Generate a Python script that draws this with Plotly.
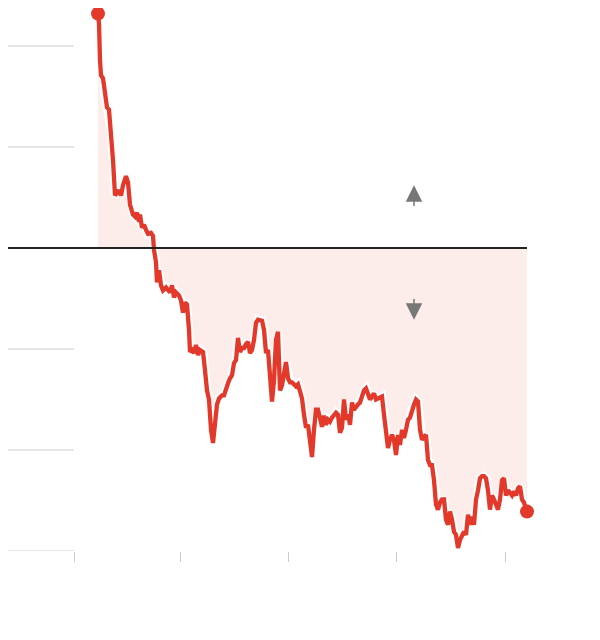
import plotly.graph_objects as go

# trading-day index and change from the base level (points)
days = [24, 25, 26, 27, 29, 31, 33, 35, 37, 39, 41, 43, 45, 47, 49, 52, 54, 56, 59, 61,
        63, 65, 66, 68, 70, 72, 74, 77, 79, 80, 82, 83, 85, 87, 89, 92, 94, 96, 98, 100,
        102, 105, 107, 109, 111, 113, 115, 116, 118, 120, 122, 124, 126, 129, 131, 133, 135, 137, 139, 141,
        143, 145, 148, 150, 152, 154, 156, 158, 160, 162, 164, 166, 168, 170, 172, 174, 176, 178, 180, 182,
        184, 186, 188, 190, 192, 194, 196, 198, 200, 202, 204, 206, 208, 210, 212, 214, 216, 218, 220, 222,
        224, 226, 228, 230, 232, 234, 236, 238, 240, 242, 244, 246, 248, 250, 252, 254, 256, 258, 260, 262,
        264, 266, 268, 270, 272, 274, 276, 278, 280, 282, 284, 286, 288, 290, 292, 294, 296, 298, 300, 302,
        304, 306, 308, 310, 312, 314, 316, 318, 320, 322, 324, 326, 328, 330, 332, 334, 336, 338, 340, 342,
        344, 346, 348, 350, 352, 354, 356, 358, 360, 362, 364, 366, 368, 370, 372, 374, 376, 378, 380, 382,
        384, 386, 388, 390, 392, 394, 396, 398, 400, 402, 404, 406, 408, 410, 412, 414, 416, 418, 420, 422,
        424, 426, 428, 430, 432, 434, 436, 438, 440, 442, 444, 446, 448, 450, 453]
change = [232, 222, 186, 171, 168, 151, 139, 137, 117, 87, 52, 54, 57, 52, 62, 71, 65, 43, 33, 31,
          35, 26, 33, 20, 23, 18, 14, 15, 12, -2, -14, -34, -22, -37, -42, -39, -42, -44, -37, -49,
          -44, -47, -52, -64, -54, -56, -81, -103, -101, -104, -96, -106, -101, -103, -121, -141, -150, -180, -193, -175,
          -155, -149, -146, -146, -139, -134, -129, -126, -114, -111, -89, -103, -99, -99, -95, -93, -104, -101, -91, -74,
          -71, -72, -72, -81, -104, -101, -123, -152, -131, -91, -83, -141, -136, -126, -113, -129, -133, -133, -135, -137,
          -135, -141, -149, -165, -178, -175, -190, -207, -180, -160, -160, -170, -177, -166, -175, -170, -172, -168, -166, -163,
          -165, -183, -178, -150, -170, -165, -175, -153, -160, -157, -155, -153, -148, -141, -139, -146, -150, -147, -144, -150,
          -149, -147, -147, -165, -180, -198, -190, -185, -190, -205, -185, -195, -180, -188, -180, -170, -168, -160, -155, -150,
          -152, -180, -190, -187, -185, -210, -215, -215, -230, -254, -259, -252, -249, -249, -269, -274, -261, -269, -281, -284,
          -297, -289, -284, -281, -284, -264, -274, -266, -274, -249, -240, -228, -226, -226, -228, -240, -259, -245, -249, -254,
          -259, -249, -230, -228, -245, -240, -243, -245, -241, -245, -238, -236, -249, -252, -261]

tick_days = [0, 106, 214, 322, 431]
grid_levels = [200, 100, -100, -200, -300]

RED = "#e2392b"
GRID = "#cccccc"

fig = go.Figure()

# shaded area between the series and zero
fig.add_trace(go.Scatter(x=days, y=change, mode="none", fill="tozeroy",
                         fillcolor="#fcecea", hoverinfo="skip"))
# white halo under the line
fig.add_trace(go.Scatter(x=days, y=change, mode="lines",
                         line=dict(color="white", width=8.5), hoverinfo="skip"))
fig.add_trace(go.Scatter(x=days, y=change, mode="lines",
                         line=dict(color=RED, width=4.3)))
# end points
fig.add_trace(go.Scatter(x=[days[0], days[-1]], y=[change[0], change[-1]], mode="markers",
                         marker=dict(color=RED, size=14), cliponaxis=False))

# short gridlines in the left margin
for lvl in grid_levels:
    fig.add_shape(type="line", xref="x", yref="y", x0=-66, x1=0, y0=lvl, y1=lvl,
                  line=dict(color=GRID, width=1), layer="below")

# zero baseline
fig.add_shape(type="line", xref="x", yref="y", x0=-66, x1=days[-1], y0=0, y1=0,
              line=dict(color="#222222", width=2))

# up / down arrows
for tip, tail in [(62, 40), (-71, -49)]:
    fig.add_annotation(x=340, y=tip, ax=340, ay=tail, xref="x", yref="y",
                       axref="x", ayref="y", text="", showarrow=True,
                       arrowhead=2, arrowsize=2.2, arrowwidth=1.5, arrowcolor="#777777")

fig.update_layout(
    width=600, height=640,
    margin=dict(l=0, r=0, t=0, b=97),
    plot_bgcolor="white", paper_bgcolor="white",
    showlegend=False,
    xaxis=dict(range=[-66, 534], showgrid=False, zeroline=False, showline=False,
               tickvals=tick_days, ticks="outside", ticklen=10, tickwidth=1,
               tickcolor=GRID, showticklabels=False),
    yaxis=dict(range=[-300, 237.6], showgrid=False, zeroline=False, showline=False,
               showticklabels=False),
)

fig.write_html("out.html")
